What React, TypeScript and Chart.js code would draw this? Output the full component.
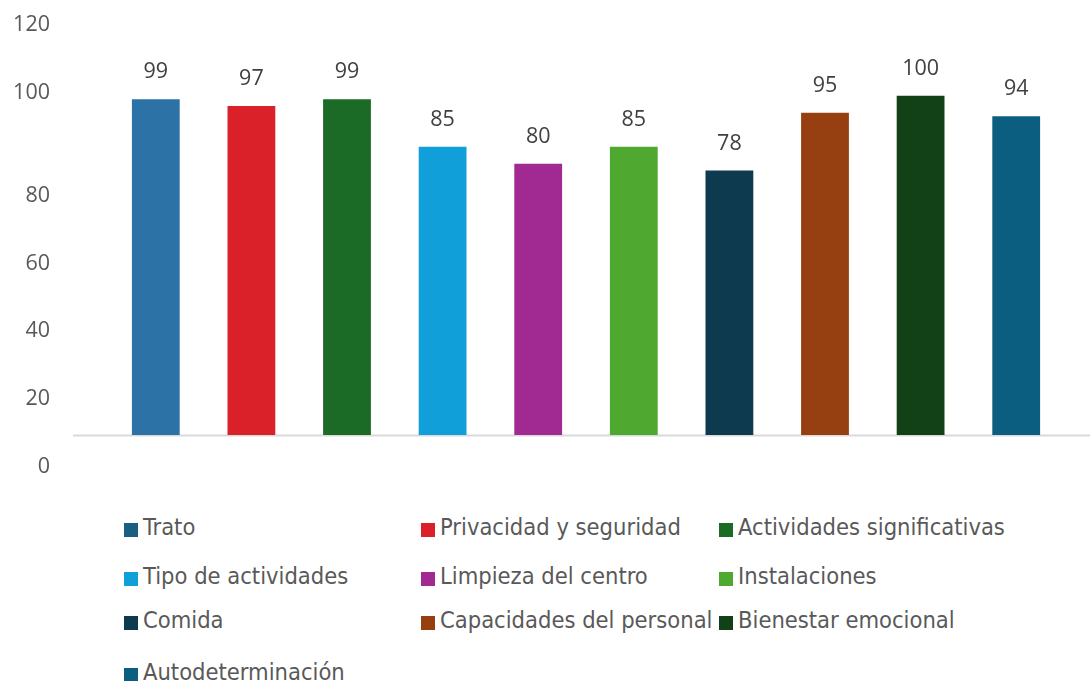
import React, { useEffect, useRef } from "react";
import { Chart, registerables } from "chart.js";

Chart.register(...registerables);

const categories = [
  "Trato",
  "Privacidad y seguridad",
  "Actividades significativas",
  "Tipo de actividades",
  "Limpieza del centro",
  "Instalaciones",
  "Comida",
  "Capacidades del personal",
  "Bienestar emocional",
  "Autodeterminación",
];
const values = [99, 97, 99, 85, 80, 85, 78, 95, 100, 94];
const barColors = [
  "#2D72A6",
  "#DA2028",
  "#1B6A25",
  "#109FD9",
  "#A02A92",
  "#4FA931",
  "#0D3A4E",
  "#964012",
  "#124117",
  "#0B5E80",
];
const legendColors = [
  "#185F82",
  "#DA2028",
  "#1B6A25",
  "#109FD9",
  "#A02A92",
  "#4FA931",
  "#0D3A4E",
  "#964012",
  "#124117",
  "#0B5E80",
];
const yTickLabels = [0, 20, 40, 60, 80, 100, 120];

const LEGEND_COLS = [124, 421, 719];
const LEGEND_ROWS = [530, 579, 623, 675];

const baselinePlugin = {
  id: "baseline",
  beforeDatasetsDraw(chart: any) {
    const { ctx } = chart;
    const y = chart.scales.y.getPixelForValue(0);
    ctx.save();
    ctx.strokeStyle = "#D9D9D9";
    ctx.lineWidth = 2;
    ctx.beginPath();
    ctx.moveTo(chart.chartArea.left - 35, Math.round(y) + 0.5);
    ctx.lineTo(chart.width, Math.round(y) + 0.5);
    ctx.stroke();
    ctx.restore();
  },
};

const tickLabelPlugin = {
  id: "tickLabels",
  afterDraw(chart: any) {
    const { ctx } = chart;
    const scale = chart.scales.y;
    ctx.save();
    ctx.font = "21.5px 'Open Sans'";
    ctx.fillStyle = "#595959";
    ctx.textAlign = "right";
    ctx.textBaseline = "middle";
    yTickLabels.forEach((v) => {
      const shift = v >= 100 ? -3 : 32;
      ctx.fillText(String(v), 50, scale.getPixelForValue(v) + shift);
    });
    ctx.restore();
  },
};

const dataLabelPlugin = {
  id: "dataLabels",
  afterDatasetsDraw(chart: any) {
    const { ctx } = chart;
    const meta = chart.getDatasetMeta(0);
    ctx.save();
    ctx.font = "21.5px 'Open Sans'";
    ctx.fillStyle = "#404040";
    ctx.textAlign = "center";
    ctx.textBaseline = "middle";
    meta.data.forEach((bar: any, i: number) => {
      ctx.fillText(String(values[i]), bar.x, bar.y - 27);
    });
    ctx.restore();
  },
};

function ChartCanvas() {
  const ref = useRef<HTMLCanvasElement>(null);
  useEffect(() => {
    if (!ref.current) return;
    const chart = new Chart(ref.current, {
      type: "bar",
      data: {
        labels: categories,
        datasets: [
          {
            data: values,
            backgroundColor: barColors,
            borderWidth: 0,
            barPercentage: 0.5,
            categoryPercentage: 1,
          },
        ],
      },
      options: {
        responsive: false,
        animation: false,
        devicePixelRatio: 1,
        layout: { padding: { left: 108, right: 26, top: 28, bottom: 65 } },
        plugins: { legend: { display: false }, tooltip: { enabled: false } },
        scales: {
          x: { display: false },
          y: { display: false, min: 0, max: 120 },
        },
      },
      plugins: [baselinePlugin, tickLabelPlugin, dataLabelPlugin],
    });
    return () => chart.destroy();
  }, []);
  return (
    <canvas
      ref={ref}
      width={1090}
      height={500}
      style={{ position: "absolute", left: 0, top: 0, width: 1090, height: 500 }}
    />
  );
}

export default function App() {
  return (
    <div
      style={{
        position: "fixed",
        left: 0,
        top: 0,
        width: 1090,
        height: 681,
        overflow: "hidden",
        background: "#fff",
      }}
    >
      <ChartCanvas />
      {categories.map((c, i) => {
        const col = i % 3;
        const row = Math.floor(i / 3);
        return (
          <div
            key={c}
            style={{
              position: "absolute",
              left: LEGEND_COLS[col],
              top: LEGEND_ROWS[row],
              transform: "translateY(-50%)",
              display: "flex",
              alignItems: "center",
              whiteSpace: "nowrap",
              fontFamily: "'DejaVu Sans Condensed', 'DejaVu Sans', sans-serif",
              fontSize: 23.5,
              color: "#595959",
            }}
          >
            <span
              style={{
                display: "inline-block",
                width: 14,
                height: 14,
                background: legendColors[i],
                marginRight: 5,
              }}
            />
            <span style={{ position: "relative", top: -3 }}>{c}</span>
          </div>
        );
      })}
    </div>
  );
}
